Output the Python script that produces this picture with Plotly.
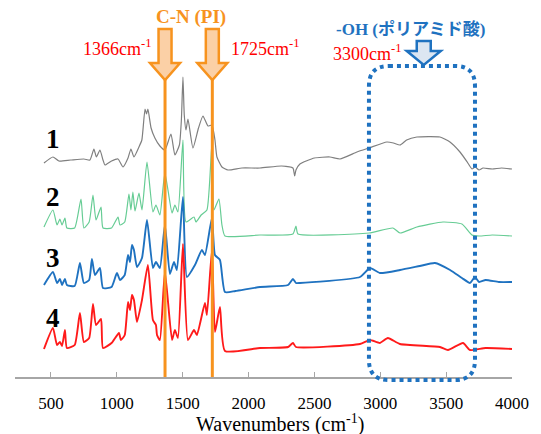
import plotly.graph_objects as go

# ---------------- data ----------------
wn1 = [447, 515, 560, 650, 750, 796, 826, 845, 872, 895, 910, 960, 1009, 1047, 1085, 1107, 1130, 1168, 1190,
       1214, 1225, 1236, 1260, 1289, 1327, 1365, 1411, 1441, 1475, 1490, 1502, 1512, 1525, 1540, 1578, 1620,
       1654, 1692, 1722, 1745, 1760, 1798, 1844, 1950, 2087, 2250, 2337, 2350, 2360, 2390, 2500, 2618, 2694,
       2823, 2914, 3050, 3100, 3150, 3200, 3278, 3453, 3529, 3605, 3660, 3696, 3720, 3750, 3780, 3850, 3920, 4000]
int1 = [214, 220, 216, 217, 218, 217, 228, 220, 227, 217, 212, 216, 218, 210, 219, 228, 220, 230, 237,
        268, 263, 268, 249, 239, 231, 227, 243, 222, 232, 257, 300, 262, 247, 258, 229, 249,
        261, 251, 252, 237, 220, 210, 207, 209, 209, 211, 209, 201, 207, 213, 219, 220, 218,
        225, 229, 235, 234, 232, 237, 240, 240, 235, 225, 215, 208, 210, 207, 209, 208, 209, 208]

wn2 = [447, 515, 546, 568, 584, 606, 621, 680, 728, 750, 790, 819, 842, 880, 895, 960, 1009, 1024, 1060,
       1092, 1107, 1122, 1138, 1168, 1191, 1229, 1274, 1297, 1327, 1365, 1419, 1441, 1464, 1502, 1525, 1586,
       1601, 1640, 1684, 1722, 1737, 1775, 1798, 1821, 2087, 2337, 2360, 2375, 2914, 3096, 3150, 3278, 3476,
       3620, 3696, 3750, 3850, 4000]
int2 = [150, 167, 152, 158, 152, 159, 149, 149, 178, 149, 155, 182, 157, 170, 149, 149, 160, 152, 155,
        183, 167, 185, 166, 184, 167, 215, 165, 172, 162, 204, 164, 172, 165, 237, 155, 160,
        155, 162, 167, 234, 167, 178, 152, 141, 142, 143, 151, 143, 144, 149, 144, 150, 155,
        153, 142, 141, 142, 141]

wn3 = [447, 515, 546, 568, 584, 606, 621, 680, 720, 750, 790, 811, 834, 872, 895, 960, 1001, 1024, 1060,
       1085, 1100, 1115, 1130, 1153, 1191, 1229, 1274, 1297, 1327, 1365, 1403, 1434, 1456, 1502, 1532, 1593,
       1646, 1669, 1722, 1745, 1783, 1821, 1900, 2087, 2300, 2337, 2360, 2390, 2846, 2922, 2997, 3150, 3300,
       3415, 3530, 3620, 3681, 3719, 3750, 3800, 3900, 4000]
int3 = [92, 105, 94, 98, 92, 98, 92, 91, 114, 94, 97, 118, 102, 109, 89, 90, 104, 97, 102,
        122, 115, 132, 127, 110, 119, 157, 109, 115, 109, 152, 103, 115, 107, 180, 100, 112,
        127, 122, 159, 122, 117, 85, 86, 90, 92, 98, 94, 94, 100, 109, 104, 107, 111,
        114, 107, 99, 94, 100, 95, 97, 95, 95]

wn4 = [447, 515, 546, 568, 584, 606, 621, 680, 720, 750, 790, 819, 842, 880, 895, 960, 1016, 1031, 1060,
       1085, 1100, 1115, 1130, 1153, 1191, 1236, 1274, 1297, 1305, 1327, 1365, 1419, 1441, 1464, 1502, 1540,
       1586, 1608, 1669, 1684, 1722, 1745, 1783, 1821, 2087, 2300, 2337, 2360, 2846, 2922, 2997, 3058, 3149,
       3453, 3514, 3628, 3681, 3800, 4000]
int4 = [28, 49, 32, 35, 31, 47, 29, 32, 64, 35, 39, 73, 52, 58, 29, 34, 44, 37, 42,
        75, 67, 82, 77, 55, 77, 112, 57, 52, 42, 37, 105, 37, 47, 39, 133, 37,
        47, 42, 74, 62, 127, 45, 70, 26, 29, 30, 34, 30, 33, 37, 34, 39, 33,
        30, 27, 34, 27, 29, 28]

series = [("1", wn1, int1, "#7f7f7f", 1.2),
          ("2", wn2, int2, "#66cc94", 1.2),
          ("3", wn3, int3, "#1f72c0", 1.9),
          ("4", wn4, int4, "#ff1a1a", 1.9)]

tick_vals = [500, 1000, 1500, 2000, 2500, 3000, 3500, 4000]
tick_text = ["500", "1000", "1500", "2000", "2500", "3000", "3500", "4000"]
peak_marks = [1366, 1725]
oh_center = 3330
oh_box = [2914, 3719]

# ---------------- layout geometry ----------------
W, H = 541, 434
L, R, T, B = 15, 29, 0, 57
X0, X1 = 227, 4000
Y0, Y1 = 0, 377
pw, ph = W - L - R, H - T - B


def px(wn):            # wavenumber -> pixel x
    return L + (wn - X0) / (X1 - X0) * pw


def xp(p):             # pixel x -> paper
    return (p - L) / pw


def yp(p):             # pixel y -> paper
    return (H - B - p) / ph


fig = go.Figure()
for name, x, y, c, w in series:
    fig.add_trace(go.Scatter(x=x, y=y, mode="lines", name=name,
                             line=dict(color=c, width=w, shape="spline", smoothing=0.5),
                             showlegend=False, hoverinfo="skip"))

shapes = []
ORANGE = "#f7931e"
for wn in peak_marks:
    cx = px(wn)
    shapes.append(dict(type="line", xref="paper", yref="paper",
                       x0=xp(cx), x1=xp(cx), y0=yp(80), y1=yp(377),
                       line=dict(color=ORANGE, width=3)))
    pts = [(cx - 6.5, 29), (cx + 6.5, 29), (cx + 6.5, 63), (cx + 15, 63), (cx, 80),
           (cx - 15, 63), (cx - 6.5, 63)]
    path = "M " + " L ".join(f"{xp(a):.5f},{yp(b):.5f}" for a, b in pts) + " Z"
    shapes.append(dict(type="path", xref="paper", yref="paper", path=path,
                       fillcolor="#fbd0a6", line=dict(color=ORANGE, width=2.5)))

BLUE = "#1f72c0"
cx = px(oh_center)
pts = [(cx - 7, 41), (cx + 7, 41), (cx + 7, 51), (cx + 17, 51), (cx, 65), (cx - 17, 51), (cx - 7, 51)]
path = "M " + " L ".join(f"{xp(a):.5f},{yp(b):.5f}" for a, b in pts) + " Z"
shapes.append(dict(type="path", xref="paper", yref="paper", path=path,
                   fillcolor="#dce6f2", line=dict(color=BLUE, width=2.5)))

bx0, bx1 = px(oh_box[0]), px(oh_box[1])
by0, by1 = 66, 380
r = 20
def P(a, b):
    return f"{xp(a):.5f},{yp(b):.5f}"
path = (f"M {P(bx0 + r, by0)} L {P(bx1 - r, by0)} Q {P(bx1, by0)} {P(bx1, by0 + r)} "
        f"L {P(bx1, by1 - r)} Q {P(bx1, by1)} {P(bx1 - r, by1)} L {P(bx0 + r, by1)} "
        f"Q {P(bx0, by1)} {P(bx0, by1 - r)} L {P(bx0, by0 + r)} Q {P(bx0, by0)} {P(bx0 + r, by0)} Z")
shapes.append(dict(type="path", xref="paper", yref="paper", path=path,
                   line=dict(color=BLUE, width=4, dash="dot")))

SERIF = "Liberation Serif"
ann = []
def text(t, x, y, size, color, xa="center", bold=False, fam=SERIF):
    ann.append(dict(text=f"<b>{t}</b>" if bold else t, xref="paper", yref="paper",
                    x=xp(x), y=yp(y), xanchor=xa, yanchor="middle", showarrow=False,
                    font=dict(family=fam, size=size, color=color)))

text("C-N (PI)", 191, 17, 19, ORANGE, bold=True)
text("1366cm<sup>-1</sup>", 154, 47, 18, "#ff0000", xa="right")
text("1725cm<sup>-1</sup>", 229, 47, 18, "#ff0000", xa="left")
text("-OH (ポリアミド酸)", 410, 29, 17, BLUE, bold=True,
     fam="Liberation Serif, Noto Sans CJK JP")
text("3300cm<sup>-1</sup>", 331, 52, 18, "#ff0000", xa="left")
for lab, yy in zip(["1", "2", "3", "4"], [139, 197, 258, 318]):
    text(lab, 53, yy, 27, "#000000", bold=True)
text("Wavenumbers (cm<sup>-1</sup>)", 280, 423, 20, "#000000")

fig.update_layout(
    width=W, height=H, margin=dict(l=L, r=R, t=T, b=B, autoexpand=False),
    plot_bgcolor="white", paper_bgcolor="white",
    shapes=shapes, annotations=ann,
    xaxis=dict(range=[X0, X1], tickvals=tick_vals, ticktext=tick_text,
               showgrid=False, zeroline=False, showline=True, linecolor="#a6a6a6",
               linewidth=1.5, ticks="inside", ticklen=5, tickcolor="#a6a6a6",
               tickfont=dict(family=SERIF, size=17, color="#000000"),
               ticklabelstandoff=10),
    yaxis=dict(range=[Y0, Y1], visible=False),
)
fig.write_html("out.html", config={"displayModeBar": False},
               post_script="document.body.style.margin='0';document.body.style.padding='0';")
